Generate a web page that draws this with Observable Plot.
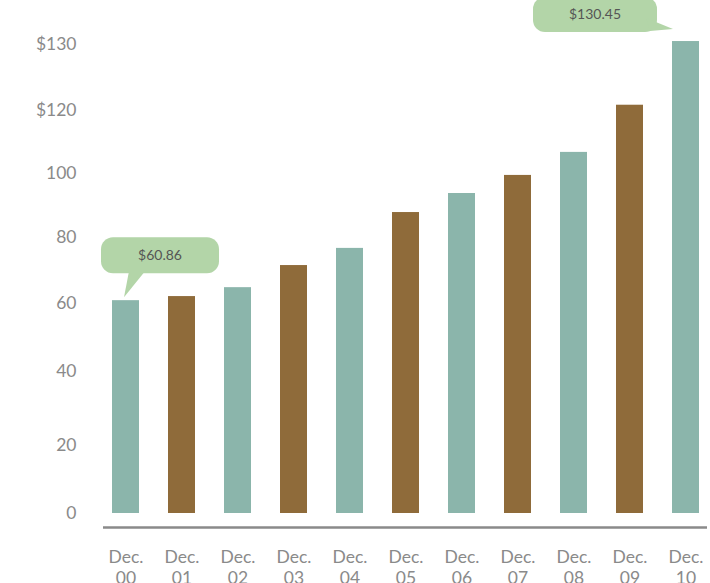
<!DOCTYPE html>
<html><head><meta charset="utf-8">
<script src="https://cdn.jsdelivr.net/npm/d3@7"></script>
<script src="https://cdn.jsdelivr.net/npm/@observablehq/plot@0.6"></script>
<style>
body{margin:0;background:#fff;}
#chart svg{display:block;}
</style>
</head><body><div id="chart"></div>
<script>
const years = ["00","01","02","03","04","05","06","07","08","09","10"];
const values = [60.86, 62.1, 64.8, 71.5, 76.7, 87.8, 93.75, 99.4, 106.7, 120.8, 130.45];
const seriesKey = ["a","b","a","b","a","b","a","b","a","b","a"];
const yTicks = [0, 20, 40, 60, 80, 100, 120, 130];
const yTickLabels = ["0","20","40","60","80","100","$120","$130"];
const calloutYears = ["00","10"];
const calloutLabels = ["$60.86","$130.45"];

const data = years.map((y, i) => ({year: y, value: values[i], key: seriesKey[i]}));
const callouts = calloutYears.map((y, i) => ({year: y, value: values[years.indexOf(y)], label: calloutLabels[i], side: i === 0 ? "left" : "right"}));

const TEAL = "#8bb5ab", BROWN = "#8f6b3a", BUBBLE = "#b3d5a8", GREY = "#8a8a8a";

// The original axis is unevenly spaced: fraction of the axis height at each tick.
const Y0 = 513, Y1 = 44;
const tickFrac = [513, 445, 371, 303, 237, 173, 110, 44].map(p => (Y0 - p) / (Y0 - Y1));
const warp = d3.scaleLinear().domain(yTicks.map(v => v / 130)).range(tickFrac);
const yInterpolate = (a, b) => t => a + (b - a) * warp(t);

function bubbles(index, scales) {
  const g = d3.create("svg:g");
  for (const c of callouts) {
    const xL = scales.x(c.year);
    const yT = scales.y(c.value);
    let rect, tail;
    if (c.side === "left") {
      rect = {x: xL - 11, y: yT - 63, w: 118, h: 36};
      tail = [[xL + 17, yT - 29], [xL + 33, yT - 29], [xL + 12, yT - 3]];
    } else {
      rect = {x: xL - 139, y: yT - 44, w: 124, h: 35};
      tail = [[xL - 26, yT - 23], [xL - 22, yT - 10], [xL + 1, yT - 12]];
    }
    g.append("rect").attr("x", rect.x).attr("y", rect.y).attr("width", rect.w).attr("height", rect.h)
      .attr("rx", 12).attr("ry", 12).attr("fill", BUBBLE);
    g.append("path").attr("d", "M" + tail.map(p => p.join(",")).join("L") + "Z").attr("fill", BUBBLE);
    g.append("text").attr("x", rect.x + rect.w / 2).attr("y", rect.y + rect.h / 2)
      .attr("text-anchor", "middle").attr("dy", "0.35em")
      .attr("font-family", "Lato, sans-serif").attr("font-size", 14).attr("fill", "#555")
      .text(c.label);
  }
  return g.node();
}

const chart = Plot.plot({
  width: 710,
  height: 583,
  marginLeft: 103,
  marginRight: 3,
  marginTop: 0,
  marginBottom: 56,
  style: {background: "#fff", fontFamily: "Lato, sans-serif", overflow: "visible"},
  x: {domain: years, paddingInner: 0.522, paddingOuter: 0.1},
  y: {domain: [0, 130], range: [Y0, Y1], interpolate: yInterpolate},
  marks: [
    Plot.barY(data, {x: "year", y: "value", fill: d => d.key === "a" ? TEAL : BROWN}),
    Plot.ruleY([0], {dy: 14, stroke: GREY, strokeWidth: 2.5}),
    Plot.axisY({ticks: yTicks, tickFormat: d => yTickLabels[yTicks.indexOf(d)], tickSize: 0, tickPadding: 27,
      fontSize: 17.5, fill: GREY, label: null}),
    Plot.axisX({tickFormat: d => "Dec.\n" + d, tickSize: 0, tickPadding: 21, fontSize: 17.5, fill: GREY,
      lineHeight: 1.2, label: null}),
    bubbles
  ]
});
document.getElementById("chart").appendChild(chart);
</script>
</body></html>
